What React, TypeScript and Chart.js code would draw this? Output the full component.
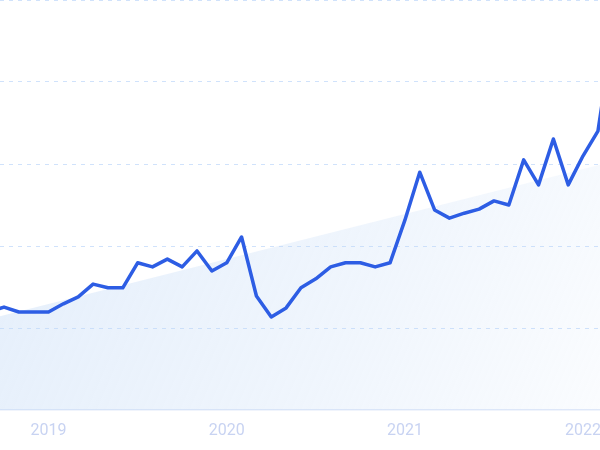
import React, { useEffect, useRef } from "react";
import { Chart, registerables } from "chart.js";

Chart.register(...registerables);

// month offsets relative to January 2019 (0 = Jan 2019)
const monthOffsets = [
  -4, -3, -2, -1, 0, 1, 2, 3, 4, 5, 6, 7, 8, 9, 10, 11,
  12, 13, 14, 15, 16, 17, 18, 19, 20, 21, 22, 23,
  24, 25, 26, 27, 28, 29, 30, 31, 32, 33, 34, 35,
  36, 37, 38,
];

const interestValues = [
  23.9, 25.1, 23.9, 23.9, 23.9, 25.9, 27.6, 30.7, 29.8, 29.8, 35.9, 34.9, 36.8, 34.9, 38.8, 33.9,
  35.9, 42.2, 27.8, 22.7, 24.9, 29.8, 32.0, 34.9, 35.9, 35.9, 34.9, 35.9,
  46.3, 58.0, 48.8, 46.8, 48.0, 49.0, 51.0, 50.0, 61.0, 54.9, 66.1, 54.9,
  62.0, 68.0, 92,
];

const trendOffsets = [-4, 38];
const trendValues = [22.2, 60.6];

const yearTickValues = [0, 12, 24, 36];
const yearLabels = ["2019", "2020", "2021", "2022"];

const yTickValues = [0, 20, 40, 60, 80, 100];

export default function App() {
  const canvasRef = useRef<HTMLCanvasElement | null>(null);

  useEffect(() => {
    const canvas = canvasRef.current;
    if (!canvas) return;

    const linePoints = monthOffsets.map((m, i) => ({ x: m, y: interestValues[i] }));
    const trendPoints = trendOffsets.map((m, i) => ({ x: m, y: trendValues[i] }));

    const chart = new Chart(canvas, {
      type: "line",
      data: {
        datasets: [
          {
            data: linePoints,
            borderColor: "#2d5de4",
            borderWidth: 3.5,
            pointRadius: 0,
            tension: 0,
            fill: false,
            borderJoinStyle: "round",
            borderCapStyle: "round",
          },
          {
            data: trendPoints,
            borderWidth: 0,
            borderColor: "rgba(0,0,0,0)",
            pointRadius: 0,
            tension: 0,
            fill: "origin",
            backgroundColor: (ctx: any) => {
              const area = ctx.chart.chartArea;
              if (!area) return "rgba(200,222,248,0.4)";
              const g = ctx.chart.ctx.createLinearGradient(area.left, area.top + 150, area.right, area.bottom);
              g.addColorStop(0, "rgba(192,216,246,0.42)");
              g.addColorStop(0.6, "rgba(192,216,246,0.24)");
              g.addColorStop(1, "rgba(192,216,246,0.08)");
              return g;
            },
          },
        ],
      },
      options: {
        animation: false,
        responsive: false,
        layout: { padding: 0 },
        plugins: {
          legend: { display: false },
          tooltip: { enabled: false },
        },
        scales: {
          x: {
            type: "linear",
            min: -3.27,
            max: 37.14,
            afterBuildTicks: (scale: any) => {
              scale.ticks = yearTickValues.map((v) => ({ value: v }));
            },
            afterFit: (scale: any) => {
              scale.height = 40;
              scale.paddingLeft = 0;
              scale.paddingRight = 0;
            },
            grid: {
              display: true,
              drawTicks: false,
              color: "rgba(0,0,0,0)",
            },
            border: {
              display: true,
              color: "#e1e9f9",
              width: 1.5,
            },
            ticks: {
              padding: 11,
              autoSkip: false,
              maxRotation: 0,
              color: "#c8d3f2",
              font: { family: "Roboto", size: 16 },
              callback: (value: any) => {
                const idx = yearTickValues.indexOf(Number(value));
                return idx >= 0 ? yearLabels[idx] : "";
              },
            },
          },
          y: {
            min: 0,
            max: 100,
            afterBuildTicks: (scale: any) => {
              scale.ticks = yTickValues.map((v) => ({ value: v }));
            },
            afterFit: (scale: any) => {
              scale.width = 0;
            },
            ticks: { display: false },
            border: { display: false, dash: [4, 5] },
            grid: {
              drawTicks: false,
              color: (ctx: any) => (ctx.tick && ctx.tick.value === 0 ? "rgba(0,0,0,0)" : "#d0e2fb"),
              lineWidth: 1,
            },
          },
        },
      },
    });

    return () => chart.destroy();
  }, []);

  return (
    <div style={{ position: "absolute", left: 0, top: 0, width: 600, height: 450, background: "#ffffff" }}>
      <canvas ref={canvasRef} width={600} height={450} style={{ display: "block" }} />
    </div>
  );
}
